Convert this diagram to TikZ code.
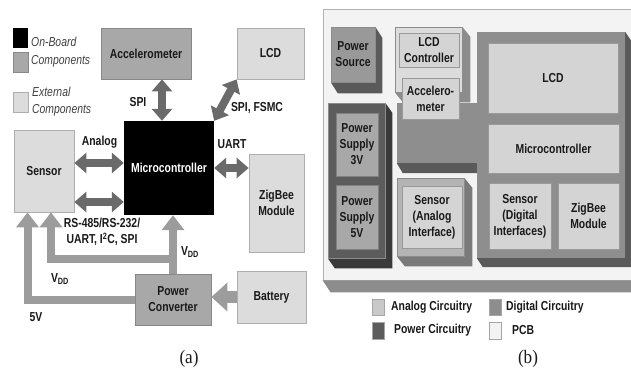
\documentclass[tikz,border=0pt]{standalone}
\usepackage{fontspec}
\newfontfamily\diagfont{Liberation Sans}[FakeStretch=0.8]
\newfontfamily\capfont{Liberation Serif}[FakeStretch=0.9]
\usetikzlibrary{arrows.meta, positioning, calc, backgrounds}

\pgfdeclarelayer{board}
\pgfsetlayers{board,background,main}

\definecolor{offfill}{HTML}{DCDCDC}
\definecolor{offdraw}{HTML}{AEAEAE}
\definecolor{onfill}{HTML}{A8A8A8}
\definecolor{ondraw}{HTML}{888888}
\definecolor{busgray}{HTML}{6A6A6A}
\definecolor{pwrgray}{HTML}{9C9C9C}
\definecolor{pcbfill}{HTML}{F3F3F3}
\definecolor{pcbband}{HTML}{8C8C8C}
\definecolor{anafill}{HTML}{D4D4D4}
\definecolor{digfill}{HTML}{8E8E8E}
\definecolor{digside}{HTML}{5A5A5A}
\definecolor{pwrfill}{HTML}{5C5C5C}
\definecolor{pwrside}{HTML}{3A3A3A}

\begin{document}
\begin{tikzpicture}[x=1pt, y=-1pt,
    every node/.style={font=\diagfont\bfseries\fontsize{13}{16}\selectfont, inner sep=0pt, align=center, text=black!90},
    onboard/.style={draw=ondraw, fill=onfill, line width=0.8pt},
    offboard/.style={draw=offdraw, fill=offfill, line width=0.8pt},
    mcubox/.style={fill=black, text=white},
    legtxt/.style={font=\diagfont\itshape\fontsize{13}{17.5}\selectfont, align=left, text=black!75},
    caption/.style={font=\capfont\fontsize{19}{20}\selectfont},
    bus/.style={draw=busgray, line width=8pt, {Triangle[length=12pt,width=20pt]}-{Triangle[length=12pt,width=20pt]}},
    supply/.style={draw=pwrgray, line width=8pt, line join=miter, -{Triangle[length=15pt,width=22pt]}},
    feed/.style={draw=pwrgray, line width=12pt, -{Triangle[length=16pt,width=28pt]}},
    slab/.style={draw=black!45, line width=0.5pt},
    part/.style={draw=black!40, fill=anafill, line width=0.8pt},
    legbox/.style={draw=black!35, line width=0.5pt, minimum width=12pt, minimum height=16pt},
    legitem/.style={anchor=west}
]
    \useasboundingbox (0,0) rectangle (631,372);
    \begin{pgfonlayer}{board}
        \fill[white] (0,0) rectangle (631,372);
    \end{pgfonlayer}

    % ---------------- (a) block diagram ----------------
    % Legend
    \node (legon)  [fill=black, minimum width=15pt, minimum height=20pt] at (20.5,38) {};
    \node (legob)  [onboard, minimum width=15pt, minimum height=20pt] at (20.5,62.5) {};
    \node (legoff) [offboard, minimum width=15pt, minimum height=20pt] at (20.5,102) {};
    \node (legontxt)  [legtxt, anchor=west] at (31,52) {On-Board\\Components};
    \node (legofftxt) [legtxt, anchor=west] at (32,101.5) {External\\Components};

    % Blocks
    \node (acc)    [onboard, minimum width=90pt, minimum height=51pt] at (146,53.5) {Accelerometer};
    \node (lcd)    [offboard, minimum width=67pt, minimum height=51pt] at (270.5,53.5) {LCD};
    \node (mcu)    [mcubox, minimum width=90pt, minimum height=94pt] at (169,168) {Microcontroller};
    \node (sensor) [offboard, minimum width=60pt, minimum height=82pt] at (44,171) {Sensor};
    \node (zigbee) [offboard, minimum width=55pt, minimum height=98pt] at (276.5,203) {ZigBee\\Module};
    \node (conv)   [onboard, minimum width=76pt, minimum height=51pt] at (173,299.5) {Power\\Converter};
    \node (batt)   [offboard, minimum width=69pt, minimum height=52pt] at (271.5,297) {Battery};

    % Helper coordinates
    \coordinate (anl)   at (0,163);
    \coordinate (busy)  at (0,202);
    \coordinate (vdd)   at (51,259);
    \coordinate (fivev) at (27.5,300);

    % Data links
    \draw [bus] ([xshift=16pt]acc.south) -- ([xshift=-7pt]mcu.north);
    \draw [bus] (mcu.north east) -- (lcd.south west);
    \draw [bus] (sensor.east |- anl) -- (mcu.west |- anl);
    \draw [bus] (sensor.east |- busy) -- (mcu.west |- busy);
    \draw [bus] (mcu.east) -- (zigbee.west |- mcu.east);

    % Power links
    \draw [feed] (batt.west) -- (conv.east |- batt.west);
    \draw [supply] (conv.north) -- (conv.north |- mcu.south);
    \draw [supply] (conv.north |- vdd) -- (vdd) -- (vdd |- sensor.south);
    \draw [supply] (conv.west |- fivev) -- (fivev) -- (fivev |- sensor.south);

    % Link labels
    \node (spilbl)  at (138,102) {SPI};
    \node (fsmclbl) at (257,108) {SPI, FSMC};
    \node (anlbl)   at (99.5,142) {Analog};
    \node (uartlbl) at (232,144) {UART};
    \node (buslbl)  at (102,232) {RS-485/RS-232/\\UART, I\textsuperscript{2}C, SPI};
    \node (vddmcu)  at (190,252) {V\textsubscript{DD}};
    \node (vddsen)  at (60,279) {V\textsubscript{DD}};
    \node (fivelbl) at (36,317) {5V};
    \node (capa) [caption] at (189,359) {(a)};

    % ---------------- (b) board layout ----------------
    \begin{pgfonlayer}{board}
        \node (pcb) [draw=black!30, fill=pcbfill, line width=0.8pt, minimum width=317pt, minimum height=271pt] at (481.5,144.5) {};
        \fill[pcbband] (pcb.south west) -- ++(8,12) -- ($(pcb.south east)+(8,12)$) -- (pcb.south east) -- cycle;
    \end{pgfonlayer}

    % Digital circuitry
    \node (dig)  [fill=digfill, minimum width=148pt, minimum height=226pt] at (551,145) {};
    \node (digx) [fill=digfill, minimum width=82pt, minimum height=60pt] at (438,133) {};
    \node (lcdd) [part, minimum width=130pt, minimum height=70pt] at (553,78) {LCD};
    \node (mcud) [part, minimum width=131pt, minimum height=49pt] at (553.5,148.5) {Microcontroller};
    \node (sdig) [part, minimum width=62pt, minimum height=66pt] at (520,216) {Sensor\\(Digital\\Interfaces)};
    \node (zbd)  [part, minimum width=61pt, minimum height=66pt] at (588.5,216) {ZigBee\\Module};

    % Power circuitry
    \node (psrc)  [slab, fill=digfill!90!white, minimum width=44pt, minimum height=55pt] at (353,54.5) {Power\\Source};
    \node (power) [slab, fill=pwrfill, minimum width=57pt, minimum height=155pt] at (356.5,180.5) {};
    \node (ps3) [part, fill=onfill, draw=black!50, minimum width=42pt, minimum height=63pt] at (357,144.5) {Power\\Supply\\3V};
    \node (ps5) [part, fill=onfill, draw=black!50, minimum width=42pt, minimum height=64pt] at (357,217) {Power\\Supply\\5V};

    % Analog circuitry
    \node (lcdgrp) [slab, fill=offfill, minimum width=67pt, minimum height=65pt] at (428.5,59.5) {};
    \node (lcdc)   [part, minimum width=60pt, minimum height=34pt] at (429,50) {LCD\\Controller};
    \node (accb)   [part, minimum width=57pt, minimum height=41pt] at (430.5,98.5) {Accelero-\\meter};
    \node (sanag)  [slab, fill=anafill!85!black, minimum width=67pt, minimum height=78pt] at (430.5,217) {};
    \node (sana)   [part, minimum width=60pt, minimum height=62pt] at (432,217) {Sensor\\(Analog\\Interface)};

    % Extruded sides
    \begin{scope}[on background layer]
        \foreach \n/\dx/\dy/\c in {psrc/7/11/digside, lcdgrp/8/10/pcbband, dig/6/9/digside, digx/6/10/digside, power/7/10/pwrside, sanag/8/10/black!52}
            \fill[\c] (\n.south west) -- ++(\dx,\dy) -- ($(\n.south east)+(\dx,\dy)$) -- ($(\n.north east)+(\dx,\dy)$) -- (\n.north east) -- (\n.south east) -- cycle;
    \end{scope}

    % Legend
    \node (lgan)  [legbox, fill=anafill!95!black] at (378,307) {};
    \node (lgdg)  [legbox, fill=digfill] at (495,307) {};
    \node (lgpw)  [legbox, fill=pwrfill, minimum height=17pt] at (378,330.5) {};
    \node (lgpcb) [legbox, fill=pcbfill, minimum height=17pt] at (495,330.5) {};
    \node (lganl)  [legitem] at (391,307) {Analog Circuitry};
    \node (lgdgl)  [legitem] at (506,307) {Digital Circuitry};
    \node (lgpwl)  [legitem] at (394,330) {Power Circuitry};
    \node (lgpcbl) [legitem] at (512,330) {PCB};
    \node (capb) [caption] at (528,359) {(b)};
\end{tikzpicture}
\end{document}
